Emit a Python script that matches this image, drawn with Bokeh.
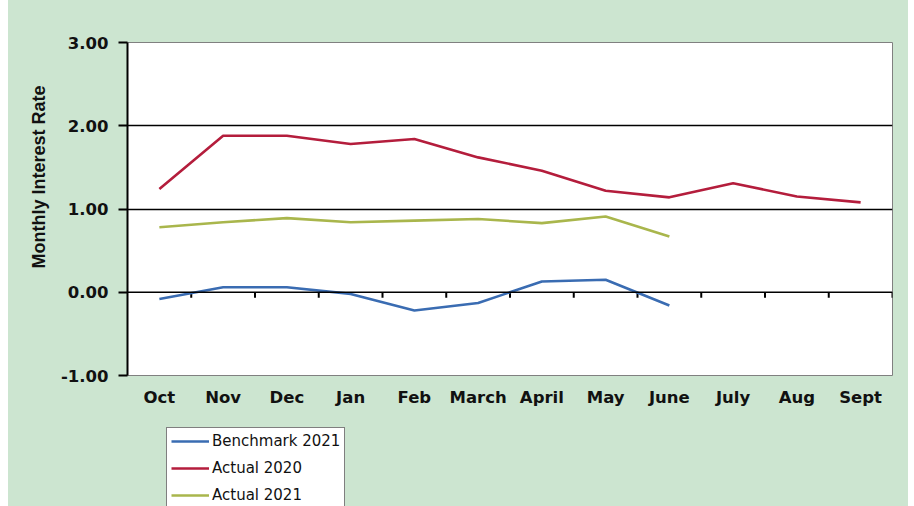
import numpy as np
from bokeh.plotting import figure
from bokeh.models import (FixedTicker, NumeralTickFormatter, Span, Title,
                          Legend, LegendItem, Range1d, Spacer)
from bokeh.layouts import row, column
from bokeh.embed import file_html
from bokeh.resources import INLINE

months = ["Oct", "Nov", "Dec", "Jan", "Feb", "March", "April", "May",
          "June", "July", "Aug", "Sept"]
benchmark_2021 = [-0.08, 0.06, 0.06, -0.02, -0.22, -0.13, 0.13, 0.15, -0.16]
actual_2020 = [1.24, 1.88, 1.88, 1.78, 1.84, 1.62, 1.46, 1.22, 1.14, 1.31, 1.15, 1.08]
actual_2021 = [0.78, 0.84, 0.89, 0.84, 0.86, 0.88, 0.83, 0.91, 0.67]
y_ticks = [-1, 0, 1, 2, 3]

series_names = ["Benchmark 2021", "Actual 2020", "Actual 2021"]
series_colors = ["#3a6cb2", "#b41d3c", "#a9b64c"]

BG = "#cce5d0"
TICK_FONT = "DejaVu Sans"
TITLE_FONT = "Liberation Sans"

xc = np.arange(len(months)) + 0.5  # category centres

p = figure(width=900, height=420, output_backend="svg", toolbar_location=None,
           x_range=Range1d(0, len(months)), y_range=Range1d(-1, 3),
           min_border_left=119, min_border_right=16, min_border_top=42,
           min_border_bottom=45)
p.border_fill_color = None
p.background_fill_color = "white"
p.outline_line_color = "#808080"
p.outline_line_width = 1

# category labels along the bottom
p.xaxis.ticker = FixedTicker(ticks=list(xc))
p.xaxis.major_label_overrides = {float(x): m for x, m in zip(xc, months)}
p.xaxis.axis_line_color = None
p.xaxis.major_tick_line_color = None
p.xaxis.minor_tick_line_color = None
p.xaxis.major_label_standoff = 6
p.xaxis.major_label_text_font = TICK_FONT
p.xaxis.major_label_text_font_style = "bold"
p.xaxis.major_label_text_font_size = "16.5px"
p.xaxis.major_label_text_color = "#111111"

p.yaxis.ticker = FixedTicker(ticks=y_ticks)
p.yaxis.formatter = NumeralTickFormatter(format="0.00")
p.yaxis.axis_line_color = "black"
p.yaxis.axis_line_width = 2
p.yaxis.major_tick_line_color = "black"
p.yaxis.major_tick_line_width = 2
p.yaxis.major_tick_out = 9
p.yaxis.major_tick_in = 0
p.yaxis.minor_tick_line_color = None
p.yaxis.major_label_standoff = 10
p.yaxis.major_label_text_font = TICK_FONT
p.yaxis.major_label_text_font_style = "bold"
p.yaxis.major_label_text_font_size = "16.5px"
p.yaxis.major_label_text_color = "#111111"

p.xgrid.grid_line_color = None
p.ygrid.ticker = FixedTicker(ticks=[1, 2])
p.ygrid.grid_line_color = "black"
p.ygrid.grid_line_width = 1.3

# zero line with category-boundary ticks
p.add_layout(Span(location=0, dimension="width", line_color="black", line_width=1.6))
bounds = np.arange(1, len(months) + 1)
p.segment(x0=bounds, y0=0, x1=bounds, y1=-0.065, line_color="black", line_width=2)

for vals, col in zip([benchmark_2021, actual_2020, actual_2021], series_colors):
    p.line(xc[:len(vals)], vals, line_color=col, line_width=2.6)

# y-axis title, set a little above the frame's centre
p.add_layout(Title(text="Monthly Interest Rate", align="right", offset=43,
                   vertical_align="top", standoff=14, text_font=TITLE_FONT,
                   text_font_style="bold", text_font_size="18px",
                   text_color="#111111"), "left")

# legend strip underneath the chart (its frame lines up with the chart's)
lg = figure(width=900, height=86, output_backend="svg", toolbar_location=None,
            x_range=Range1d(0, 1), y_range=Range1d(0, 1), min_border=0,
            x_axis_type=None, y_axis_type=None)
lg.border_fill_color = None
lg.background_fill_color = None
lg.outline_line_color = None
lg.xgrid.grid_line_color = None
lg.ygrid.grid_line_color = None
items = []
for name, col in zip(series_names, series_colors):
    r = lg.line([np.nan], [np.nan], line_color=col, line_width=2.6)
    items.append(LegendItem(label=name, renderers=[r]))
legend = Legend(items=items, location=(39, -3), orientation="vertical",
                padding=4, spacing=9, margin=0,
                glyph_height=18, label_height=18, glyph_width=38,
                label_standoff=3,
                label_text_font=TICK_FONT, label_text_font_size="15px",
                label_text_color="#111111",
                border_line_color="black", border_line_width=1.5,
                background_fill_color="white", background_fill_alpha=1)
lg.add_layout(legend, "center")

layout = row(Spacer(width=8, height=506, styles={"background-color": "white"}),
             column(p, lg, styles={"background-color": BG}))
open("out.html", "w").write(file_html(layout, INLINE))
